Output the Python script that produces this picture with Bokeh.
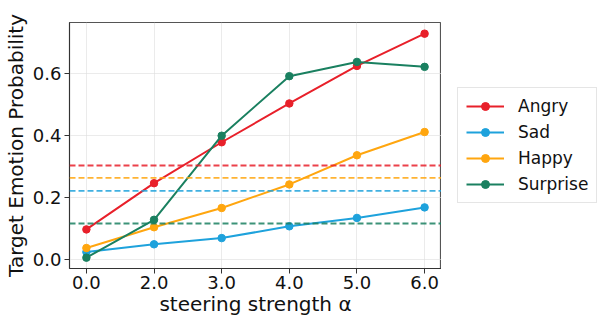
from bokeh.plotting import figure
from bokeh.layouts import row
from bokeh.models import Span, Legend, LegendItem, FixedTicker
from bokeh.embed import file_html
from bokeh.resources import INLINE

alpha_labels = ["0.0", "2.0", "3.0", "4.0", "5.0", "6.0"]
series_names = ["Angry", "Sad", "Happy", "Surprise"]
angry = [0.098, 0.247, 0.379, 0.504, 0.625, 0.729]
sad = [0.025, 0.050, 0.070, 0.108, 0.135, 0.169]
happy = [0.038, 0.105, 0.167, 0.243, 0.337, 0.412]
surprise = [0.007, 0.129, 0.400, 0.592, 0.638, 0.622]
baselines = [0.304, 0.222, 0.264, 0.117]
y_ticks = [0.0, 0.2, 0.4, 0.6]

colors = ["#E8202A", "#1EA2DC", "#FFA60F", "#1A8060"]
series = [angry, sad, happy, surprise]

FONT = "DejaVu Sans"
xs = list(range(len(alpha_labels)))

FW = 372
TOTAL_H = 318
p = figure(frame_width=FW, height=TOTAL_H, x_range=(-0.25, 5.25), y_range=(-0.028, 0.765),
           output_backend="svg", toolbar_location=None,
           min_border_left=0, min_border_right=0, min_border_top=6, min_border_bottom=0)
p.background_fill_color = "white"
p.border_fill_color = "white"
p.outline_line_color = "#555555"
p.outline_line_width = 1.2

p.xaxis.ticker = FixedTicker(ticks=xs)
p.xaxis.major_label_overrides = {i: l for i, l in enumerate(alpha_labels)}
p.yaxis.ticker = FixedTicker(ticks=y_ticks)
p.yaxis.major_label_overrides = {t: f"{t:.1f}" for t in y_ticks}

for ax in (p.xaxis[0], p.yaxis[0]):
    ax.major_label_text_font = FONT
    ax.major_label_text_font_size = "18px"
    ax.major_label_text_color = "#111111"
    ax.axis_label_text_font = FONT
    ax.axis_label_text_font_size = "20px"
    ax.axis_label_text_font_style = "normal"
    ax.axis_label_text_color = "#111111"
    ax.major_tick_out = 5
    ax.major_tick_in = 0
    ax.minor_tick_out = 0
    ax.minor_tick_in = 0
    ax.axis_line_color = "#333333"
    ax.major_tick_line_color = "#333333"
    ax.major_label_standoff = 3
    ax.axis_label_standoff = 2
p.xaxis.major_label_standoff = 2
p.xaxis.axis_label_standoff = 0

p.xaxis.axis_label = "steering strength α"
p.yaxis.axis_label = "Target Emotion Probability"

p.grid.grid_line_color = "#dddddd"
p.grid.grid_line_alpha = 0.6
p.grid.grid_line_width = 1

for val, c in zip(baselines, colors):
    p.add_layout(Span(location=val, dimension="width", line_color=c,
                      line_dash="6 3", line_width=1.8, line_alpha=0.85))

for ys, c in zip(series, colors):
    p.line(xs, ys, line_color=c, line_width=2)
    p.scatter(xs, ys, size=7.5, fill_color=c, line_color=c)

# legend panel: a separate figure so that the legend is not clipped by the plot frame.
# Its ranges are set away from the data, so the series only show up as legend glyphs.
LEG_W = 158
lp = figure(width=LEG_W, height=TOTAL_H, x_range=(100, 101), y_range=(100, 101),
            output_backend="svg", toolbar_location=None,
            x_axis_type=None, y_axis_type=None,
            min_border_left=0, min_border_right=0, min_border_top=22,
            min_border_bottom=50)
lp.outline_line_color = None
lp.grid.visible = False
lp.background_fill_color = "white"
lp.border_fill_color = "white"

items = []
for name, ys, c in zip(series_names, series, colors):
    r1 = lp.line(xs, ys, line_color=c, line_width=2)
    r2 = lp.scatter(xs, ys, size=7.5, fill_color=c, line_color=c)
    items.append(LegendItem(label=name, renderers=[r1, r2]))

legend = Legend(items=items, location="left")
legend.label_text_font = FONT
legend.label_text_font_size = "17px"
legend.label_text_color = "#111111"
legend.glyph_width = 38
legend.glyph_height = 20
legend.label_height = 20
legend.label_standoff = 14
legend.spacing = 6
legend.padding = 8
legend.margin = 16
legend.border_line_color = "#cccccc"
legend.border_line_width = 1
legend.background_fill_alpha = 1
lp.add_layout(legend, "center")

layout = row(p, lp, spacing=0)
open("out.html", "w").write(file_html(layout, INLINE))
